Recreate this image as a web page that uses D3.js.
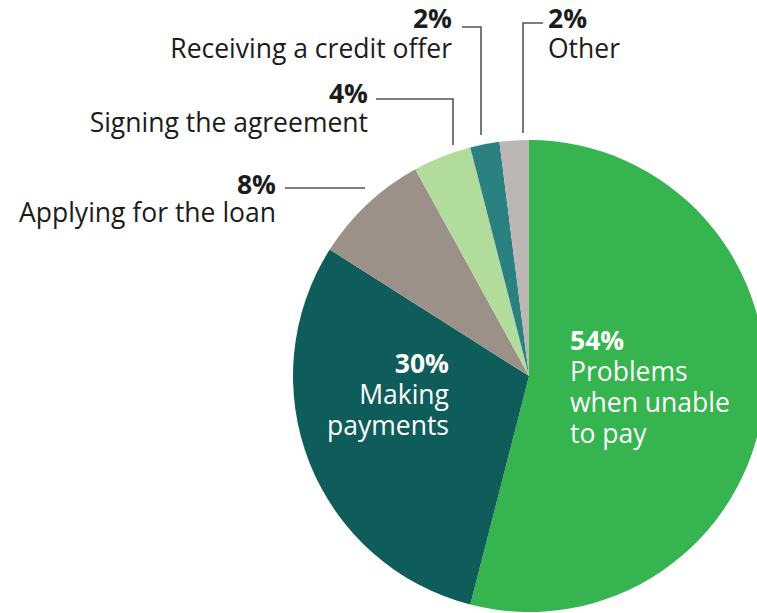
<!DOCTYPE html>
<html><head><meta charset="utf-8">
<script src="https://cdn.jsdelivr.net/npm/d3@7"></script>
<style>html,body{margin:0;padding:0;background:#fff;overflow:hidden}</style>
</head><body>
<svg id="chart" width="757" height="613"></svg>
<script>
// Data
const categories = ["Problems when unable to pay","Making payments","Applying for the loan","Signing the agreement","Receiving a credit offer","Other"];
const values = [54, 30, 8, 4, 2, 2];
const percentLabels = ["54%","30%","8%","4%","2%","2%"];
const nameLines = [["Problems","when unable","to pay"],["Making","payments"],["Applying for the loan"],["Signing the agreement"],["Receiving a credit offer"],["Other"]];
const colors = ["#35b44f","#0f5d5a","#9b9189","#b2dc9c","#2b8180","#bcb7b4"];

const svg = d3.select("#chart");
const cx = 529, cy = 376, R = 236;
const font = "'Open Sans', 'Noto Sans', sans-serif";

const pie = d3.pie().value(d => d).sort(null);
const arc = d3.arc().innerRadius(0).outerRadius(R);
const arcs = pie(values);

const g = svg.append("g").attr("transform", `translate(${cx},${cy})`);
g.selectAll("path").data(arcs).enter().append("path")
  .attr("d", arc).attr("fill", (d,i) => colors[i]);

// Label layout (positions only)
const layout = [
  {inside:true, x:570, y:350, anchor:"start", lh:31},
  {inside:true, x:449, y:373, anchor:"end", lh:31},
  {x:276, y:194, anchor:"end", lh:28, leader:[[285,188],[365,188]]},
  {x:368, y:103, anchor:"end", lh:29, leader:[[376,99],[453,99],[453,145]]},
  {x:452, y:28, anchor:"end", lh:30, leader:[[462,27],[481,27],[481,135]]},
  {x:548, y:28, anchor:"start", lh:30, leader:[[543,23],[523,23],[523,133]]}
];

const line = d3.line();
layout.forEach((L, i) => {
  if (L.leader) {
    svg.append("path").attr("d", line(L.leader)).attr("fill","none")
      .attr("stroke","#555").attr("stroke-width",1.6);
  }
  const col = L.inside ? "#ffffff" : "#1c1c1c";
  const t = svg.append("text").attr("text-anchor", L.anchor)
    .attr("font-family", font).attr("font-size", 26.5).attr("fill", col);
  t.append("tspan").attr("x", L.x).attr("y", L.y).attr("font-weight", 700).text(percentLabels[i]);
  nameLines[i].forEach((s, k) => {
    t.append("tspan").attr("x", L.x).attr("y", L.y + L.lh*(k+1)).attr("font-weight", 400).text(s);
  });
});
</script>
</body></html>
